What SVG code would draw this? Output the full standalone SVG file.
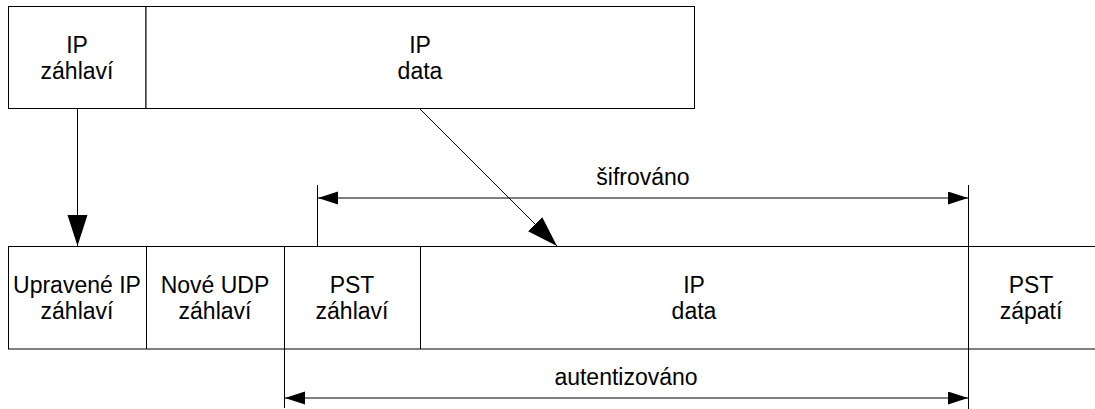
<svg xmlns="http://www.w3.org/2000/svg" width="1095" height="409" viewBox="0 0 1095 409">
  <style>
    .box { fill: #fff; stroke: #000; stroke-width: 1; }
    .ln { fill: none; stroke: #000; stroke-width: 1; }
    .lbl { font-family: "Liberation Sans", Arial, sans-serif; font-size: 23px; fill: #000; text-anchor: middle; }
  </style>
  <defs>
    <marker id="bigHead" markerUnits="userSpaceOnUse" markerWidth="32" markerHeight="22" refX="31" refY="10" orient="auto">
      <path d="M0,0 L31,10 L0,20 Z" fill="#000"/>
    </marker>
    <marker id="smallHead" markerUnits="userSpaceOnUse" markerWidth="21" markerHeight="14" refX="20" refY="6.5" orient="auto-start-reverse">
      <path d="M0,0 L20,6.5 L0,13 Z" fill="#000"/>
    </marker>
  </defs>

  <!-- original IP packet -->
  <g id="ip-header">
    <rect class="box" x="8.5" y="6.5" width="137.5" height="102"/>
    <text class="lbl" x="77" y="53">IP</text>
    <text class="lbl" x="77" y="79">záhlaví</text>
  </g>
  <g id="ip-data">
    <rect class="box" x="146" y="6.5" width="548.5" height="102"/>
    <text class="lbl" x="420" y="53">IP</text>
    <text class="lbl" x="420" y="79">data</text>
  </g>

  <!-- encapsulated packet -->
  <g id="mod-ip-header">
    <path class="ln" d="M8.5,246.5 V349"/>
    <text class="lbl" x="77" y="293">Upravené IP</text>
    <text class="lbl" x="77" y="319">záhlaví</text>
  </g>
  <g id="udp-header">
    <path class="ln" d="M146.5,246.5 V349"/>
    <text class="lbl" x="215" y="293">Nové UDP</text>
    <text class="lbl" x="215" y="319">záhlaví</text>
  </g>
  <g id="pst-header">
    <path class="ln" d="M284.5,246.5 V408"/>
    <text class="lbl" x="352" y="293">PST</text>
    <text class="lbl" x="352" y="319">záhlaví</text>
  </g>
  <g id="new-ip-data">
    <path class="ln" d="M420.5,246.5 V349"/>
    <text class="lbl" x="694" y="293">IP</text>
    <text class="lbl" x="694" y="319">data</text>
  </g>
  <g id="pst-footer">
    <path class="ln" d="M968.5,185 V409"/>
    <text class="lbl" x="1031" y="293">PST</text>
    <text class="lbl" x="1031" y="319">zápatí</text>
  </g>
  <g id="row-borders">
    <path class="ln" d="M8,246.5 H1095 M8,349 H1095"/>
  </g>

  <!-- connectors and ranges -->
  <g id="connectors">
    <path class="ln" d="M77.5,109 V246" marker-end="url(#bigHead)"/>
    <path class="ln" d="M420,109 L557,246" marker-end="url(#bigHead)"/>
    <path class="ln" d="M317.5,185 V246.5"/>
    <path class="ln" d="M318,198 H968" marker-start="url(#smallHead)" marker-end="url(#smallHead)"/>
    <text class="lbl" x="643" y="185">šifrováno</text>
    <path class="ln" d="M285,398 H968" marker-start="url(#smallHead)" marker-end="url(#smallHead)"/>
    <text class="lbl" x="626" y="385">autentizováno</text>
  </g>
</svg>
